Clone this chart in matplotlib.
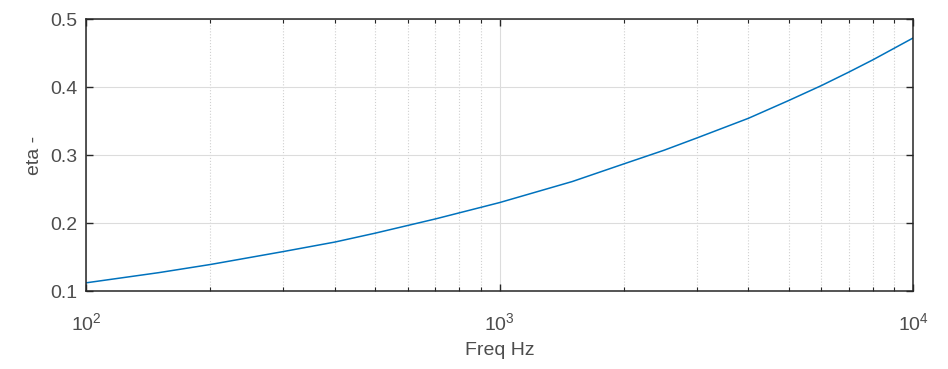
import matplotlib
matplotlib.use("Agg")
from matplotlib import pyplot as plt
from matplotlib.ticker import LogLocator, NullFormatter

freq = [100, 150, 200, 300, 400, 500, 700, 1000, 1500, 2000, 2500,
        3000, 4000, 5000, 6000, 7000, 8000, 10000]
eta = [0.112, 0.127, 0.139, 0.158, 0.172, 0.185, 0.206, 0.230, 0.261,
       0.287, 0.307, 0.325, 0.354, 0.380, 0.402, 0.422, 0.440, 0.472]

yticks = [0.1, 0.2, 0.3, 0.4, 0.5]

plt.rcParams['font.family'] = ['Liberation Sans', 'DejaVu Sans']
plt.rcParams['mathtext.fontset'] = 'custom'
plt.rcParams['mathtext.rm'] = 'Liberation Sans'
plt.rcParams['mathtext.it'] = 'Liberation Sans'

dark = '#262626'
fig = plt.figure(figsize=(9.48, 3.69), dpi=100)
ax = fig.add_axes([86 / 948, 1 - 291 / 369, 827 / 948, 272 / 369])

ax.plot(freq, eta, color='#0072BD', linewidth=1.1)

ax.set_xscale('log')
ax.set_xlim(100, 10000)
ax.set_ylim(0.1, 0.5)
ax.set_yticks(yticks)
ax.set_yticklabels([f'{v:g}' for v in yticks])
ax.xaxis.set_minor_locator(LogLocator(base=10, subs=range(2, 10)))
ax.xaxis.set_minor_formatter(NullFormatter())

ax.grid(True, which='major', color='#dcdcdc', linewidth=0.8, linestyle='-')
ax.grid(True, which='minor', axis='x', color='#d0d0d0', linewidth=0.8, linestyle=':')

ax.tick_params(which='both', direction='in', top=True, right=True,
               colors=dark, labelcolor='#4d4d4d', labelsize=14)
ax.tick_params(which='major', length=5, width=1)
ax.tick_params(which='minor', length=3, width=0.8)
ax.tick_params(axis='x', pad=15)
ax.tick_params(axis='y', pad=6)
for s in ax.spines.values():
    s.set_color(dark)
    s.set_linewidth(1.1)

ax.set_xlabel('Freq Hz', fontsize=14, color='#4d4d4d', labelpad=6)
ax.set_ylabel('eta -', fontsize=14, color='#4d4d4d', labelpad=5)

fig.savefig('out.png', dpi=100)
